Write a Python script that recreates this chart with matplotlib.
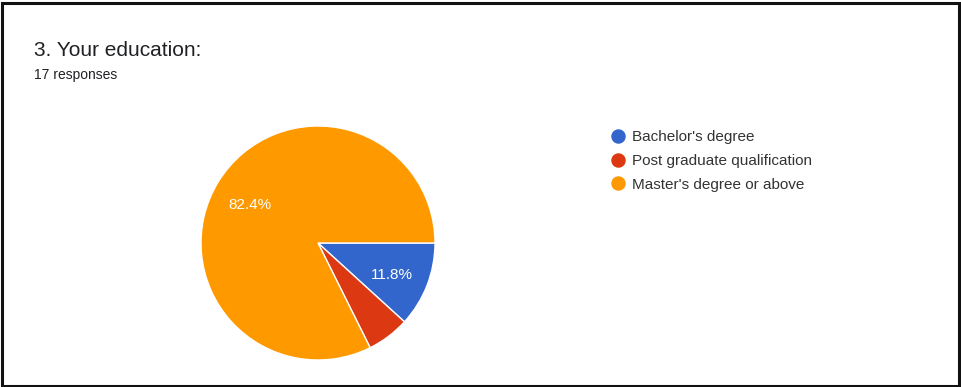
import matplotlib.pyplot as plt
from matplotlib.lines import Line2D
from matplotlib.patches import Rectangle

# Respuestas de la pregunta 3 (17 en total)
categorias = ["Bachelor's degree", "Post graduate qualification", "Master's degree or above"]
respuestas = [2, 1, 14]
colores = ['#3366cc', '#dc3912', '#ff9900']

titulo = "3. Your education:"
subtitulo = "17 responses"

W, H = 961, 387
fig = plt.figure(figsize=(W / 100, H / 100), dpi=100)
fuente = 'Liberation Sans'

# Marco exterior
fig.patches.append(Rectangle((2 / W, 1 / H), (W - 4) / W, (H - 4) / H, transform=fig.transFigure,
                             fill=False, edgecolor='#111111', linewidth=2.2))

fig.text(34 / W, 1 - 56 / H, titulo, fontsize=15, family=fuente, color='#202124', va='baseline')
fig.text(34 / W, 1 - 79 / H, subtitulo, fontsize=10, family=fuente, color='#202124', va='baseline')

# Pastel: centro (318, 243) px, radio 117 px
r = 117
ax = fig.add_axes([(318 - r) / W, (H - 243 - r) / H, 2 * r / W, 2 * r / H])


def etiqueta(pct):
    return f'{pct:.1f}%' if pct >= 10 else ''


_, _, pcts = ax.pie(respuestas, colors=colores, startangle=0, counterclock=False,
                    autopct=etiqueta, pctdistance=0.68,
                    wedgeprops=dict(edgecolor='white', linewidth=1),
                    textprops=dict(color='white', fontsize=11, family=fuente))
# las etiquetas quedan un poco más abajo
for t in pcts:
    x, y = t.get_position()
    t.set_position((x, y - 0.03))
ax.set_xlim(-1, 1)
ax.set_ylim(-1, 1)
ax.set_aspect('equal')
ax.axis('off')

handles = [Line2D([], [], marker='o', linestyle='', markersize=9.4, markerfacecolor=c, markeredgecolor=c)
           for c in colores]
fig.legend(handles, categorias, loc='upper left', bbox_to_anchor=(604 / W, 1 - 124 / H),
           frameon=False, prop=dict(family=fuente, size=11),
           handletextpad=0.41, labelspacing=0.64, handlelength=1.0, borderaxespad=0,
           labelcolor='#333333')

fig.savefig('out.png', dpi=100, facecolor='white')
